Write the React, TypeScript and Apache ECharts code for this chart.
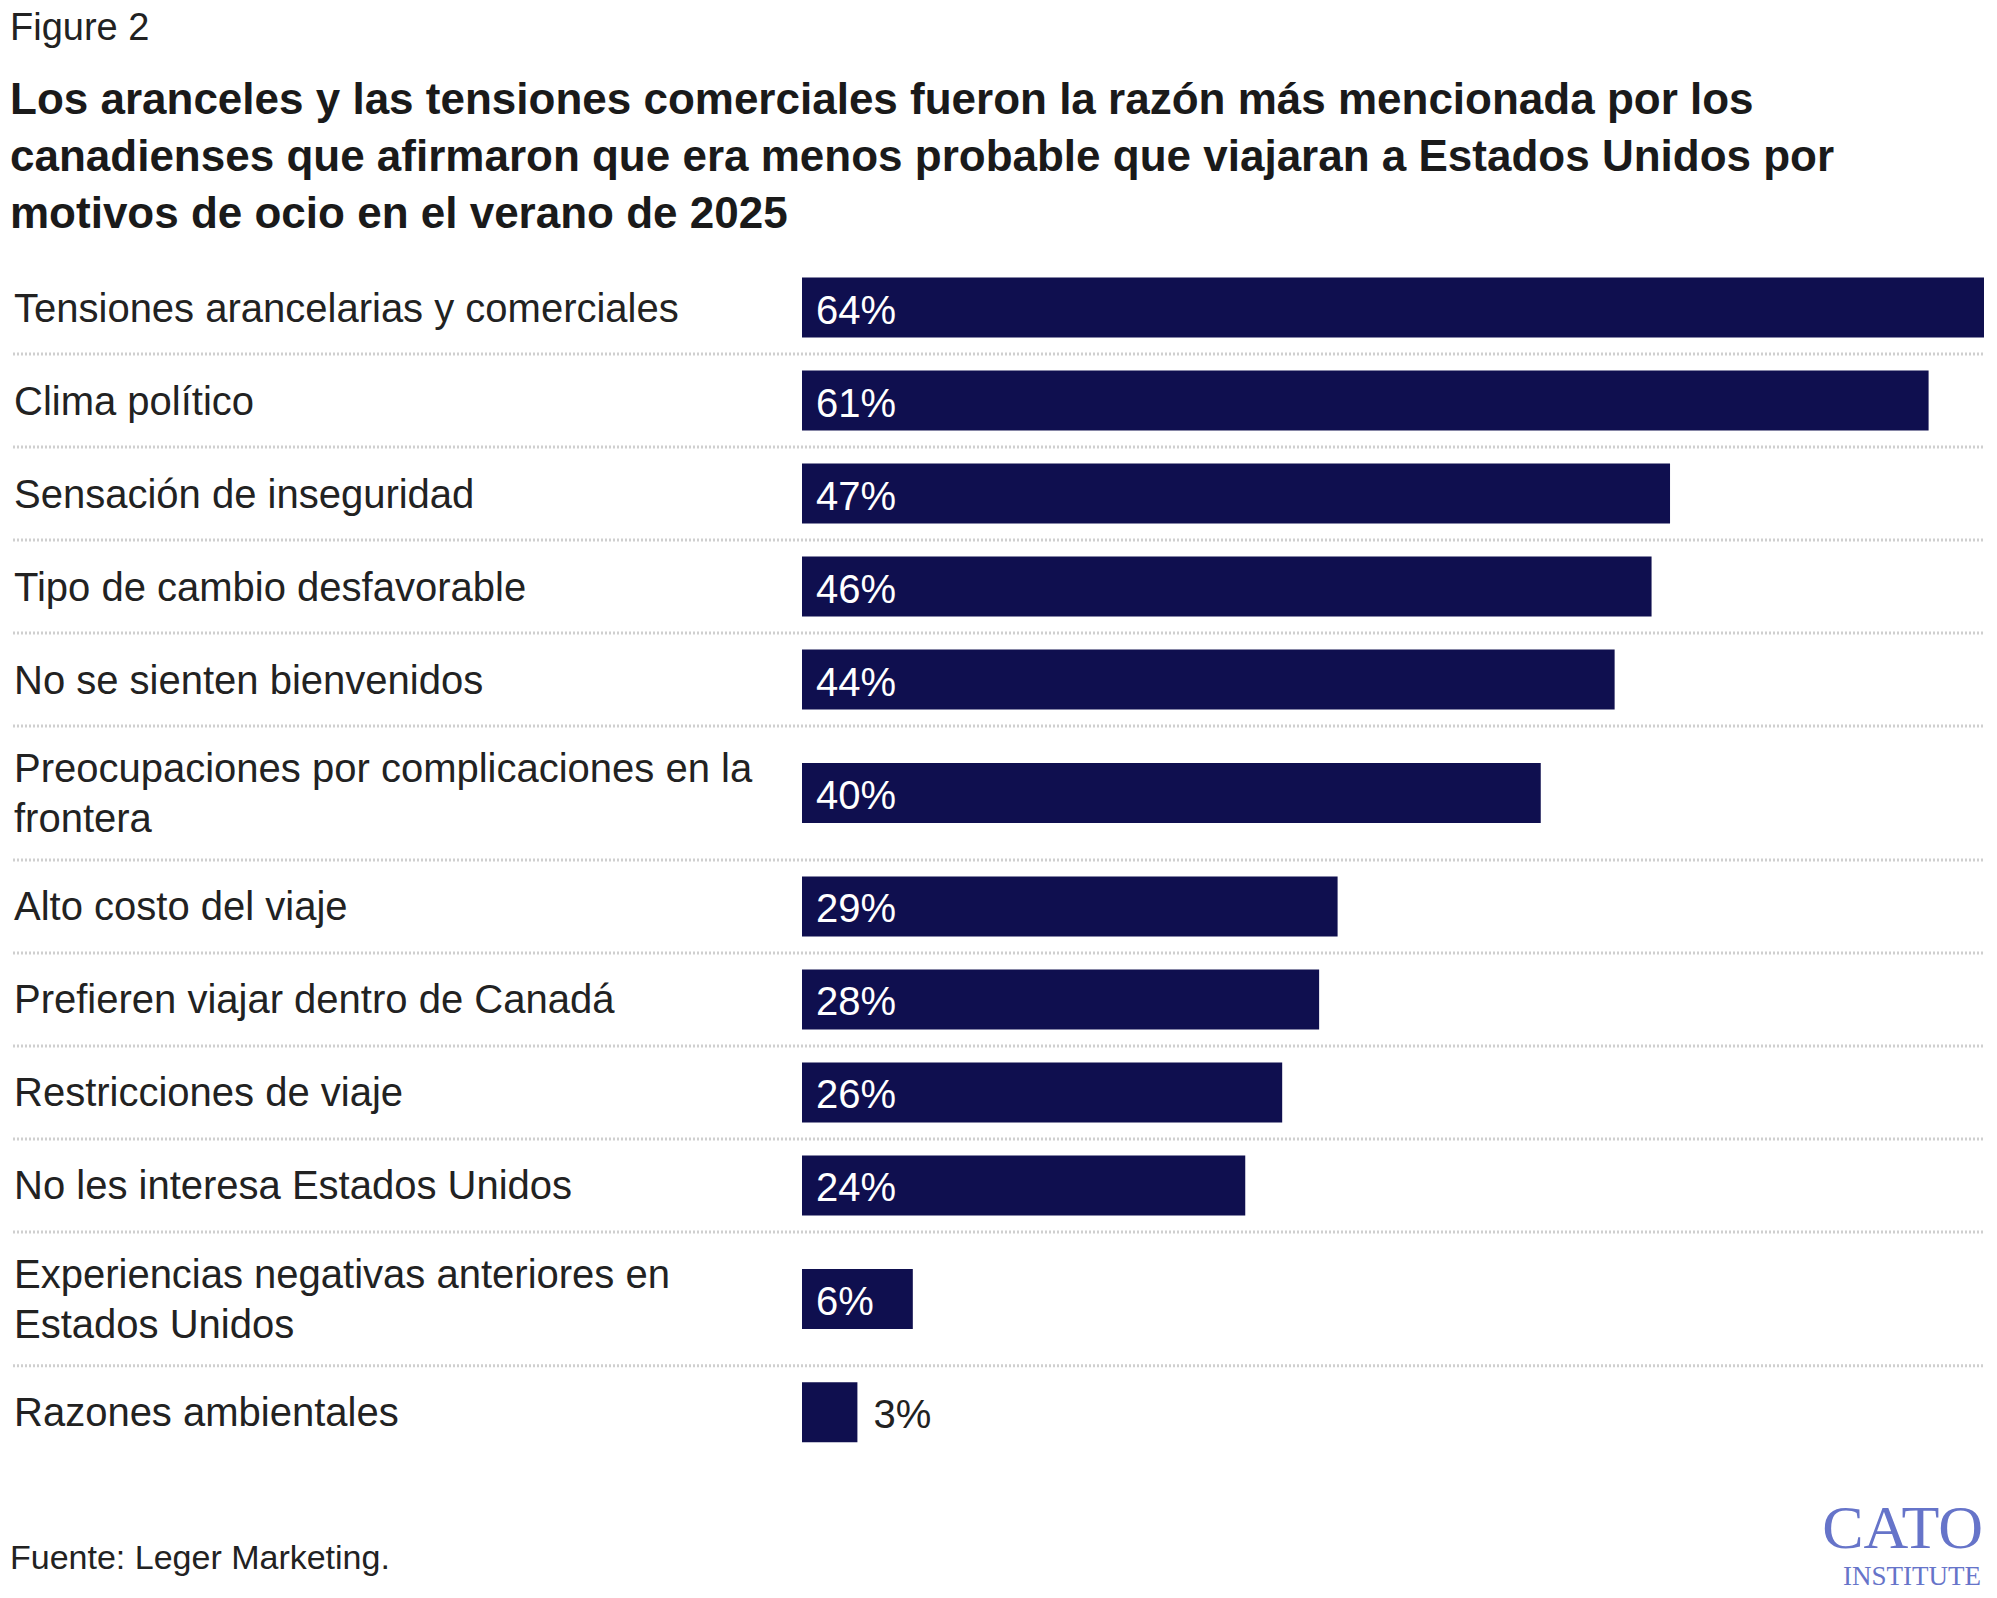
import React, { useEffect, useRef } from "react";
import * as echarts from "echarts";

const categories = [
  "Tensiones arancelarias y comerciales",
  "Clima político",
  "Sensación de inseguridad",
  "Tipo de cambio desfavorable",
  "No se sienten bienvenidos",
  "Preocupaciones por complicaciones en la frontera",
  "Alto costo del viaje",
  "Prefieren viajar dentro de Canadá",
  "Restricciones de viaje",
  "No les interesa Estados Unidos",
  "Experiencias negativas anteriores en Estados Unidos",
  "Razones ambientales",
];
const values = [64, 61, 47, 46, 44, 40, 29, 28, 26, 24, 6, 3];

const FONT = "'Liberation Sans', Arial, sans-serif";
const LABEL_SIZE = 40;
const LABEL_WIDTH = 775;

function countLines(text: string): number {
  const c = document.createElement("canvas").getContext("2d")!;
  c.font = `${LABEL_SIZE}px ${FONT}`;
  const words = text.split(" ");
  let lines = 1, cur = "";
  for (const w of words) {
    const t = cur ? cur + " " + w : w;
    if (c.measureText(t).width > LABEL_WIDTH && cur) { lines++; cur = w; } else cur = t;
  }
  return lines;
}

export default function App() {
  const ref = useRef<HTMLDivElement>(null);
  useEffect(() => {
    document.body.style.margin = "0";
    const chart = echarts.init(ref.current!, null, { renderer: "svg" });
    const TALL = 1.44;
    let acc = 0;
    const data = values.map((v, i) => {
      const h = countLines(categories[i]) > 1 ? TALL : 1;
      const d = [v, acc, acc + h, i];
      acc += h;
      return d;
    });
    const total = acc;
    chart.setOption({
      animation: false,
      grid: { left: 802, right: 13, top: 261, height: 93 * total },
      xAxis: { type: "value", min: 0, max: 64, show: false },
      yAxis: { type: "value", min: 0, max: total, inverse: true, show: false },
      graphic: [
        { type: "text", left: 10, top: 8, style: { text: "Figure 2", font: `38px ${FONT}`, fill: "#222" } },
        {
          type: "text", left: 10, top: 70,
          style: {
            text: "Los aranceles y las tensiones comerciales fueron la razón más mencionada por los\ncanadienses que afirmaron que era menos probable que viajaran a Estados Unidos por\nmotivos de ocio en el verano de 2025",
            font: `bold 44px ${FONT}`, fill: "#1a1a1a", lineHeight: 57,
          },
        },
        { type: "text", left: 10, top: 1540, style: { text: "Fuente: Leger Marketing.", font: `34px ${FONT}`, fill: "#222" } },
        { type: "text", right: 14, top: 1496, style: { text: "CATO", font: `62px 'Liberation Serif', serif`, fill: "#6674c9" } },
        { type: "text", right: 16, top: 1562, style: { text: "INSTITUTE", font: `27px 'Liberation Serif', serif`, fill: "#6674c9" } },
      ],
      series: [
        {
          type: "custom",
          data,
          encode: { x: 0, y: [1, 2] },
          renderItem: (params: any, api: any) => {
            const v = api.value(0), y0 = api.value(1), y1 = api.value(2), idx = api.value(3);
            const p0 = api.coord([0, y0]);
            const p1 = api.coord([v, y1]);
            const cy = (p0[1] + p1[1]) / 2;
            const bh = 60;
            const right = api.getWidth() - 13;
            const inside = v >= 5;
            const children: any[] = [
              {
                type: "rect",
                shape: { x: p0[0], y: cy - bh / 2, width: p1[0] - p0[0], height: bh },
                style: { fill: "#0f0f4f" },
              },
              {
                type: "text",
                style: {
                  text: v + "%", x: inside ? p0[0] + 14 : p1[0] + 16, y: cy + 2,
                  font: `${LABEL_SIZE}px ${FONT}`, fill: inside ? "#fff" : "#222", verticalAlign: "middle",
                },
              },
              {
                type: "text",
                style: {
                  text: categories[idx], x: 14, y: cy, width: LABEL_WIDTH, overflow: "break",
                  font: `${LABEL_SIZE}px ${FONT}`, fill: "#222", verticalAlign: "middle", lineHeight: 50,
                },
              },
            ];
            if (idx < values.length - 1) {
              children.push({
                type: "line",
                shape: { x1: 13, y1: p1[1], x2: right, y2: p1[1] },
                style: { stroke: "#cfcfcf", lineWidth: 3, lineDash: [2, 2] },
              });
            }
            return { type: "group", children };
          },
        },
      ],
    });
    return () => chart.dispose();
  }, []);
  return <div ref={ref} style={{ width: 1997, height: 1598 }} />;
}
